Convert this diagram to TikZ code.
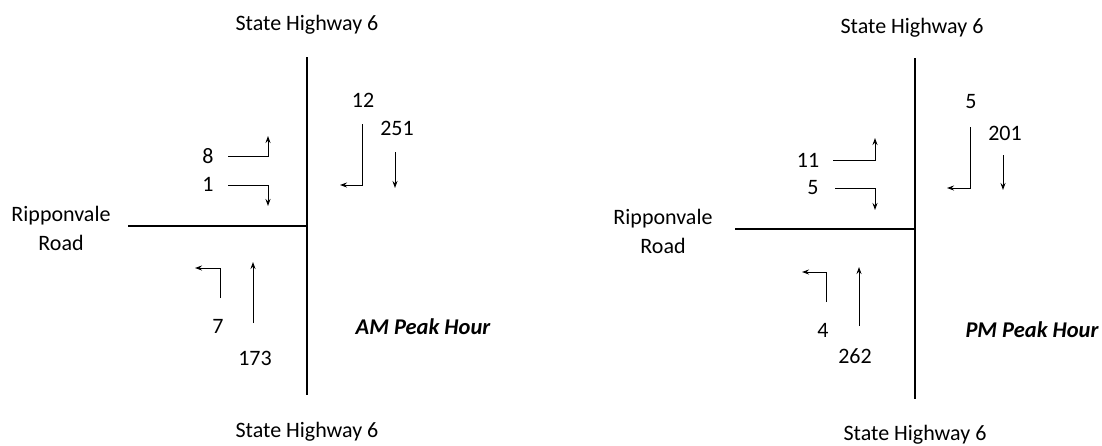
\documentclass[tikz,border=0pt]{standalone}
\usepackage{fontspec}
\setmainfont{Carlito}
\usetikzlibrary{arrows.meta}
\tikzset{
  road/.style={black,line width=2pt},
  move/.style={black,line width=1pt,-{Stealth[length=7pt,width=5pt]}},
  every node/.style={inner sep=1pt,font=\fontsize{22}{29}\selectfont},
  peak/.style={font=\fontsize{22.5}{29}\selectfont\bfseries\itshape}
}

\begin{document}
\begin{tikzpicture}[x=1pt,y=-1pt]
    \useasboundingbox (0,0) rectangle (1102,445);

    % ---- AM ----
    % 道路
    \draw[road] (307,57) -- (307,395);
    \draw[road] (128,226) -- (307,226);
    \node (amN) at (307,25) {State Highway 6};
    \node (amS) at (307,432) {State Highway 6};
    \node[align=center] (amW) at (61,228) {Ripponvale\\Road};

    % 西から
    \node (amWL) at (208,156) {8};
    \node (amWR) at (208,184) {1};
    \draw[move] (228,156) -- (268,156) -- (268,136);
    \draw[move] (228,185) -- (268,185) -- (268,206);

    % 北から
    \node (amNL) at (363,100) {12};
    \node (amNT) at (397,128) {251};
    \draw[move] (362,124) -- (362,185) -- (340,185);
    \draw[move] (395,152) -- (395,188);

    % 南から
    \node (amSL) at (218,326) {7};
    \node (amST) at (255,358) {173};
    \draw[move] (220,298) -- (220,268) -- (195,268);
    \draw[move] (253,323) -- (253,262);

    \node[peak] (amT) at (423,327) {AM Peak Hour};

    % ---- PM ----
    % 道路
    \draw[road] (915,58) -- (915,399);
    \draw[road] (735,229) -- (915,229);
    \node (pmN) at (912,28) {State Highway 6};
    \node (pmS) at (915,435) {State Highway 6};
    \node[align=center] (pmW) at (663,231) {Ripponvale\\Road};

    % 西から
    \node (pmWL) at (808,160) {11};
    \node (pmWR) at (813,188) {5};
    \draw[move] (833,160) -- (875,160) -- (875,138);
    \draw[move] (835,188) -- (875,188) -- (875,210);

    % 北から
    \node (pmNL) at (971,102) {5};
    \node (pmNT) at (1005,133) {201};
    \draw[move] (970,127) -- (970,188) -- (947,188);
    \draw[move] (1003,155) -- (1003,190);

    % 南から
    \node (pmSL) at (823,330) {4};
    \node (pmST) at (855,356) {262};
    \draw[move] (826,302) -- (826,272) -- (802,272);
    \draw[move] (859,326) -- (859,267);

    \node[peak] (pmT) at (1032,330) {PM Peak Hour};
\end{tikzpicture}
\end{document}
